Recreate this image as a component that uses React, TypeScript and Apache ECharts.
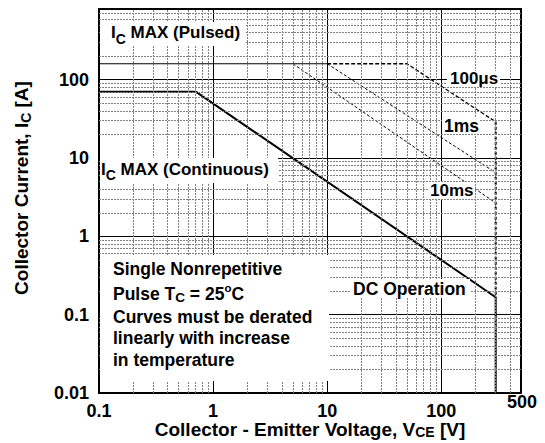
import React, { useEffect, useRef } from "react";
import * as echarts from "echarts";

// Tick labels
const xTickLabels = ["0.1", "1", "10", "100"];
const yTickLabels = ["0.01", "0.1", "1", "10", "100"];

// Minor grid values (dotted lines)
const xMinorGrid = [0.2, 0.3, 0.4, 0.5, 0.6, 0.7, 0.8, 0.9, 2, 3, 4, 5, 6, 7, 8, 9, 20, 30, 40, 50, 60, 70, 80, 90, 200, 300, 400];
const yMinorGrid = [
  0.02, 0.03, 0.04, 0.05, 0.06, 0.07, 0.08, 0.09,
  0.2, 0.3, 0.4, 0.5, 0.6, 0.7, 0.8, 0.9,
  2, 3, 4, 5, 6, 7, 8, 9,
  20, 30, 40, 50, 60, 70, 80, 90,
  200, 300, 400, 500, 600, 700,
];

// Curves [VCE (V), IC (A)]
const dcOperation = [[0.1, 70], [0.71, 70], [300, 0.167], [300, 0.01]];
const icMaxPulsed = [[0.1, 160], [10, 160]];
const pulse100us = [[10, 160], [50, 160], [300, 29]];
const pulse1ms = [[10, 160], [300, 6.5]];
const pulse10ms = [[5, 160], [300, 2.67]];
const voltageLimit = [[300, 29], [300, 0.167]];

const FONT = '"Liberation Sans", Arial, Helvetica, sans-serif';

function labelFor(list: string[], v: number): string {
  for (const s of list) {
    if (Math.abs(Math.log10(v) - Math.log10(parseFloat(s))) < 1e-6) return s;
  }
  return "";
}

function txt(size: number, extra: any = {}) {
  return { fontSize: size, fontWeight: "bold", fontFamily: FONT, fill: "#000", ...extra };
}

function richMain(size: number) {
  return { fontSize: size, fontWeight: "bold", fontFamily: FONT, color: "#000" };
}

export default function App() {
  const ref = useRef<HTMLDivElement>(null);

  useEffect(() => {
    document.body.style.margin = "0";
    if (!ref.current) return;
    const chart = echarts.init(ref.current, undefined, { renderer: "svg" });

    const whiteRect = (x: number, y: number, w: number, h: number) => ({
      type: "rect",
      z: 100,
      shape: { x, y, width: w, height: h },
      style: { fill: "#fff" },
      silent: true,
    });

    const plainText = (text: string, x: number, y: number, size: number, align = "left") => ({
      type: "text",
      z: 101,
      x,
      y,
      silent: true,
      style: { text, align, verticalAlign: "middle", lineHeight: size, ...txt(size) },
    });

    const richText = (
      text: string, x: number, y: number, size: number, subSize: number,
      subPad = 12, rotation = 0, align = "left"
    ) => ({
      type: "text",
      z: 101,
      x,
      y,
      rotation,
      silent: true,
      style: {
        text,
        align,
        verticalAlign: "middle",
        ...txt(size),
        rich: {
          m: { ...richMain(size), lineHeight: size },
          s: { ...richMain(subSize), lineHeight: subSize, padding: [subPad, 0, 0, 0] },
          p: { ...richMain(subSize - 2), lineHeight: subSize - 2, padding: [0, 0, 12, 0] },
        },
      },
    });

    const lineSeries = (name: string, data: number[][], width: number, type: any) => ({
      name,
      type: "line",
      data,
      z: 3,
      symbol: "none",
      showSymbol: false,
      silent: true,
      lineStyle: { color: "#000", width, type },
    });

    chart.setOption({
      animation: false,
      backgroundColor: "#fff",
      grid: {
        left: 99,
        right: 24,
        top: 9,
        bottom: 50,
        show: true,
        borderColor: "#000",
        borderWidth: 2,
        backgroundColor: "transparent",
      },
      xAxis: {
        type: "log",
        logBase: 10,
        min: 0.1,
        max: 500,
        axisLine: { show: true, lineStyle: { color: "#000", width: 2 } },
        axisTick: { show: false },
        splitLine: { show: true, lineStyle: { color: "#000", width: 1 } },
        axisLabel: {
          margin: 10.5,
          fontSize: 18,
          lineHeight: 14,
          fontWeight: "bold",
          fontFamily: FONT,
          color: "#000",
          formatter: (v: number) => labelFor(xTickLabels, v),
        },
      },
      yAxis: {
        type: "log",
        logBase: 10,
        min: 0.01,
        max: 800,
        axisLine: { show: true, lineStyle: { color: "#000", width: 2 } },
        axisTick: { show: false },
        splitLine: { show: true, lineStyle: { color: "#000", width: 1 } },
        axisLabel: {
          margin: 10,
          fontSize: 18,
          fontWeight: "bold",
          fontFamily: FONT,
          color: "#000",
          formatter: (v: number) => labelFor(yTickLabels, v),
        },
      },
      series: [
        {
          name: "grid",
          type: "line",
          z: 1,
          data: [[0.1, 0.01]],
          symbol: "none",
          silent: true,
          lineStyle: { opacity: 0 },
          markLine: {
            silent: true,
            symbol: ["none", "none"],
            label: { show: false },
            emphasis: { disabled: true },
            lineStyle: { color: "#808080", width: 1, type: [2, 1] },
            data: [
              ...xMinorGrid.map((v) => ({ xAxis: v })),
              ...yMinorGrid.map((v) => ({ yAxis: v })),
            ],
          },
        },
        lineSeries("IC MAX (Pulsed)", icMaxPulsed, 1.2, "solid"),
        lineSeries("DC Operation", dcOperation, 2, "solid"),
        lineSeries("100μs", pulse100us, 1.3, [4, 2]),
        lineSeries("1ms", pulse1ms, 1, [3, 2]),
        lineSeries("10ms", pulse10ms, 1, [3, 2]),
        lineSeries("Voltage limit", voltageLimit, 2, [3, 2]),
      ],
      graphic: [
        // white label backgrounds
        whiteRect(100, 22, 146, 24),
        whiteRect(100, 158, 178, 25),
        whiteRect(447, 71, 53, 16),
        whiteRect(442, 118, 38, 16),
        whiteRect(428, 182, 47, 17),
        whiteRect(350, 279, 120, 19),
        whiteRect(100, 255, 229, 126),
        // annotations
        richText("{m|I}{s|C}{m| MAX (Pulsed)}", 111, 32.5, 17, 14),
        richText("{m|I}{s|C}{m| MAX (Continuous)}", 101, 169, 17, 14),
        plainText("100μs", 450, 78.5, 17),
        plainText("1ms", 444, 126, 17.5),
        plainText("10ms", 430, 190.5, 17),
        plainText("DC Operation", 353, 288.5, 17.5),
        plainText("Single Nonrepetitive", 113, 269, 17.5),
        richText("{m|Pulse T}{s|C}{m| = 25}{p|o}{m|C}", 113, 293.5, 17.5, 13.5, 7),
        plainText("Curves must be derated", 113, 316.5, 17.5),
        plainText("linearly with increase", 113, 338, 17.5),
        plainText("in temperature", 113, 359.5, 17.5),
        // axis titles
        richText("{m|Collector - Emitter Voltage, V}{s|CE}{m| [V]}", 310, 429.5, 19, 14, 5, 0, "center"),
        richText("{m|Collector Current, I}{s|C}{m| [A]}", 21, 188, 19, 14, 10, Math.PI / 2, "center"),
        plainText("500", 522, 401.5, 18, "center"),
      ],
    });

    return () => chart.dispose();
  }, []);

  return <div ref={ref} style={{ width: 545, height: 443 }} />;
}
